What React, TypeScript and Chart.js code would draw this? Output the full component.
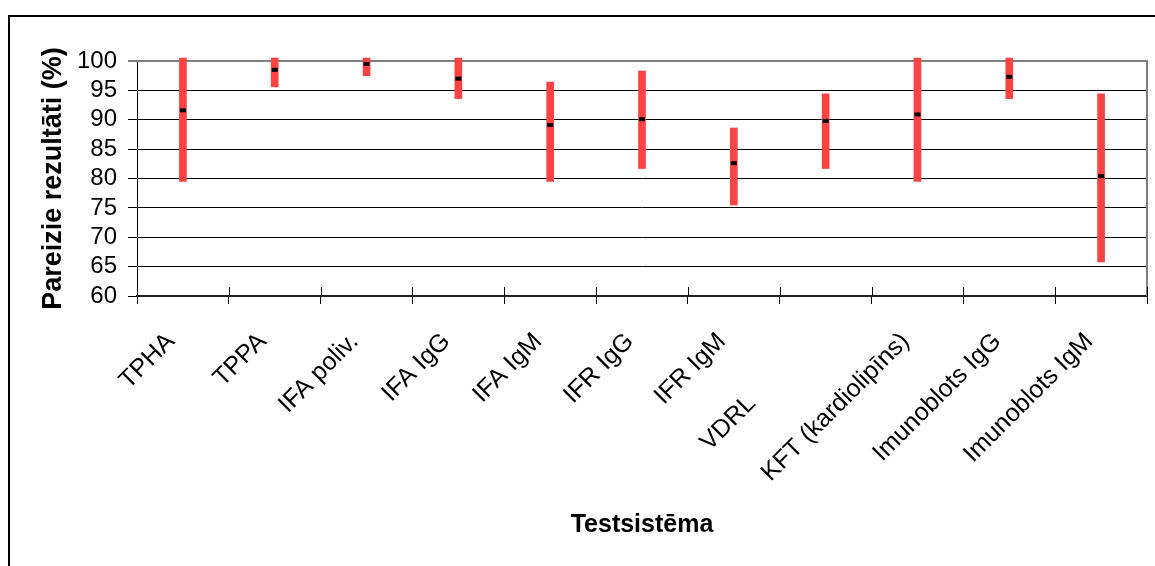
import React, { useEffect, useRef } from 'react';
import { Chart, registerables } from 'chart.js';

Chart.register(...registerables);

const categories = [
  'TPHA',
  'TPPA',
  'IFA poliv.',
  'IFA IgG',
  'IFA IgM',
  'IFR IgG',
  'IFR IgM',
  'VDRL',
  'KFT (kardiolipīns)',
  'Imunoblots IgG',
  'Imunoblots IgM',
];
const lowValues = [79.5, 95.6, 97.5, 93.6, 79.5, 81.7, 75.5, 81.7, 79.5, 93.6, 65.8];
const highValues = [100.5, 100.5, 100.5, 100.5, 96.4, 98.3, 88.6, 94.4, 100.5, 100.5, 94.4];
const pointValues = [91.6, 98.5, 99.5, 97.0, 89.1, 90.1, 82.6, 89.8, 90.9, 97.3, 80.4];
const yMin = 60;
const yMax = 100;
const yStep = 5;

const xTitle = 'Testsistēma';
const yTitle = 'Pareizie rezultāti (%)';

const FONT = '"Liberation Sans", Arial, sans-serif';

export default function App() {
  const ref = useRef<HTMLCanvasElement | null>(null);

  useEffect(() => {
    if (!ref.current) return;

    const framePlugin = {
      id: 'framePlugin',
      beforeDraw(chart: any) {
        const { ctx } = chart;
        ctx.save();
        ctx.fillStyle = '#ffffff';
        ctx.fillRect(0, 0, chart.width, chart.height);
        ctx.strokeStyle = '#000000';
        ctx.lineWidth = 2;
        ctx.beginPath();
        ctx.moveTo(9, chart.height + 10);
        ctx.lineTo(9, 16);
        ctx.lineTo(chart.width + 10, 16);
        ctx.stroke();
        ctx.restore();
      },
      beforeDatasetsDraw(chart: any) {
        const { ctx, chartArea } = chart;
        const xs = chart.scales.x;
        ctx.save();
        ctx.strokeStyle = '#808080';
        ctx.lineWidth = 2;
        ctx.beginPath();
        ctx.moveTo(chartArea.left, chartArea.top);
        ctx.lineTo(chartArea.right, chartArea.top);
        ctx.lineTo(chartArea.right, chartArea.bottom);
        ctx.stroke();
        ctx.strokeStyle = '#000000';
        ctx.lineWidth = 1;
        for (let i = 0; i <= categories.length; i++) {
          const x = Math.round(xs.getPixelForValue(i - 0.5)) + 0.5;
          ctx.beginPath();
          ctx.moveTo(x, chartArea.bottom - 9);
          ctx.lineTo(x, chartArea.bottom);
          ctx.stroke();
        }
        ctx.restore();
      },
    };

    const chart = new Chart(ref.current, {
      type: 'bar',
      data: {
        labels: categories,
        datasets: [
          {
            type: 'line',
            data: pointValues,
            showLine: false,
            pointStyle: 'line',
            pointRadius: 3,
            pointHoverRadius: 3,
            pointBorderWidth: 4,
            borderColor: '#000000',
            pointBorderColor: '#000000',
            backgroundColor: '#000000',
            clip: false,
            order: 1,
          } as any,
          {
            type: 'bar',
            data: categories.map((_, i) => [lowValues[i], highValues[i]]),
            backgroundColor: '#ff4343',
            borderWidth: 0,
            barThickness: 7,
            clip: false,
            order: 2,
          } as any,
        ],
      },
      options: {
        animation: false,
        responsive: false,
        events: [],
        layout: { padding: { left: 0, top: 61, right: 8, bottom: 0 } },
        plugins: {
          legend: { display: false },
          tooltip: { enabled: false },
        },
        scales: {
          x: {
            type: 'category',
            offset: true,
            grid: {
              display: true,
              drawOnChartArea: false,
              offset: true,
              tickLength: 8,
              tickColor: '#000000',
              tickWidth: 1,
            },
            border: { display: true, color: '#222222', width: 2 },
            ticks: {
              autoSkip: false,
              maxRotation: 45,
              minRotation: 45,
              padding: 23,
              labelOffset: -12,
              color: '#000000',
              font: { family: FONT, size: 25 },
              callback: (_v: any, i: number) =>
                categories[i] === 'VDRL' ? categories[i] + '\u2003\u2003\u2003\u2002' : categories[i],
            },
            title: {
              display: true,
              text: xTitle,
              color: '#000000',
              font: { family: FONT, size: 25, weight: 'bold' },
              padding: { top: 0, bottom: 26 },
            },
            afterFit: (s: any) => {
              s.height = 270;
            },
          },
          y: {
            type: 'linear',
            min: yMin,
            max: yMax,
            ticks: {
              stepSize: yStep,
              autoSkip: false,
              padding: 11,
              color: '#000000',
              font: { family: FONT, size: 24 },
            },
            grid: {
              color: (c: any) => (c.tick && c.tick.value === yMax ? '#808080' : '#000000'),
              lineWidth: (c: any) => (c.tick && c.tick.value === yMax ? 2 : 1),
              tickLength: 9,
              tickColor: '#000000',
              tickWidth: 1,
            },
            border: { display: true, color: '#000000', width: 1 },
            title: {
              display: true,
              text: yTitle,
              color: '#000000',
              font: { family: FONT, size: 27, weight: 'bold' },
              padding: { top: 37, bottom: 0 },
            },
            afterFit: (s: any) => {
              s.width = 137;
            },
          },
        },
      } as any,
      plugins: [framePlugin],
    });

    return () => chart.destroy();
  }, []);

  return (
    <div style={{ position: 'fixed', left: 0, top: 0, width: 1155, height: 566, background: '#fff' }}>
      <canvas ref={ref} width={1155} height={566} style={{ width: 1155, height: 566, display: 'block' }} />
    </div>
  );
}
